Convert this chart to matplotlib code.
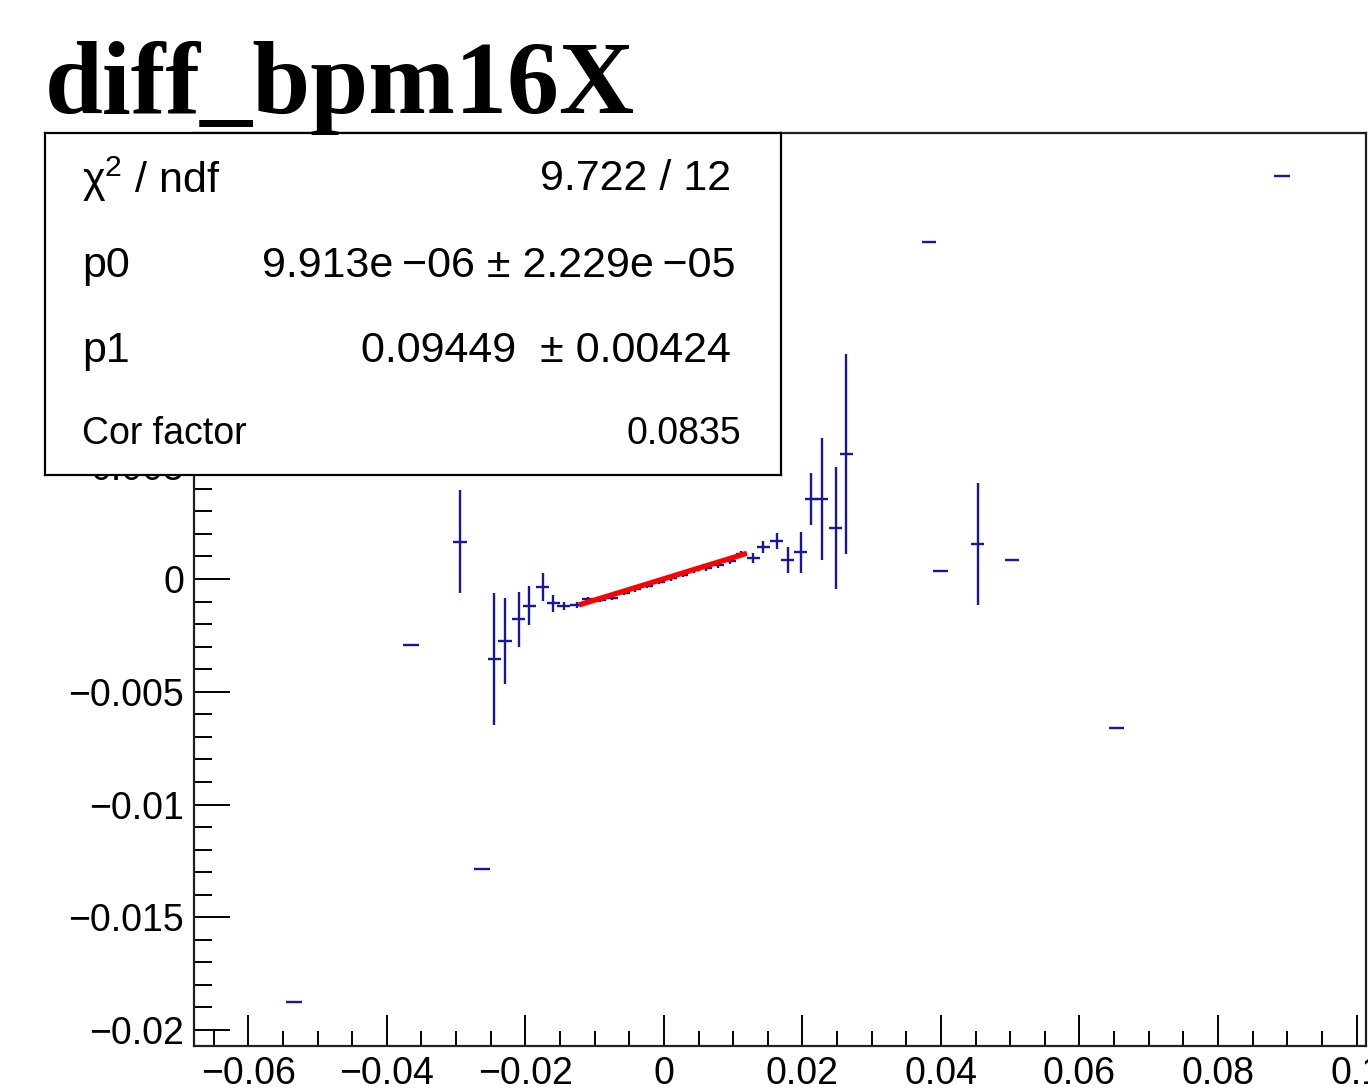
import numpy as np
import matplotlib
matplotlib.use("Agg")
import matplotlib.pyplot as plt
from matplotlib.ticker import MultipleLocator, FuncFormatter

TITLE = "diff_bpm16X"

# profile points (bin centre, mean, error)
prof_x = [-0.05339, -0.03651, -0.02944, -0.02626, -0.02449, -0.02294, -0.02097, -0.01943,
          -0.0175, -0.01597, -0.01448, -0.0126,
          -0.0109, -0.0092, -0.0075, -0.0058, -0.0041, -0.0024, -0.0007,
          0.0010, 0.0027, 0.0044, 0.0061, 0.0078, 0.0095, 0.0112,
          0.01289, 0.01438, 0.0163, 0.01785, 0.01977, 0.02131, 0.0228, 0.02482, 0.02636,
          0.03824, 0.03997, 0.04531, 0.05022, 0.06537, 0.0892]
prof_y = [-0.01877, -0.00293, 0.00166, -0.01287, -0.00356, -0.00274, -0.00179, -0.00118,
          -0.00034, -0.00108, -0.00118, -0.00115,
          -0.00090, -0.00092, -0.00082, -0.00062, -0.00046, -0.00030, -0.00013,
          0.00004, 0.00020, 0.00038, 0.00047, 0.00063, 0.00078, 0.00110,
          0.00092, 0.00141, 0.00169, 0.00084, 0.00118, 0.00355, 0.00355, 0.00225, 0.00555,
          0.01495, 0.00036, 0.00155, 0.00084, -0.00661, 0.01788]
prof_yerr = [0.0, 0.0, 0.00228, 0.0, 0.00292, 0.00192, 0.00122, 0.00087,
             0.00062, 0.00037, 0.00018, 0.00015,
             0.00012, 0.00012, 0.00012, 0.00011, 0.00011, 0.00011, 0.00011,
             0.00011, 0.00011, 0.00011, 0.00012, 0.00012, 0.00012, 0.00013,
             0.00023, 0.00026, 0.00037, 0.00057, 0.00092, 0.00117, 0.00271, 0.00271, 0.00442,
             0.0, 0.0, 0.0027, 0.0, 0.0, 0.0]
prof_xerr = [0.00115, 0.0011, 0.00095, 0.0011, 0.00095, 0.00095, 0.00095, 0.00095,
             0.00095, 0.00095, 0.00095, 0.00095,
             0.00085, 0.00085, 0.00085, 0.00085, 0.00085, 0.00085, 0.00085,
             0.00085, 0.00085, 0.00085, 0.00085, 0.00085, 0.00085, 0.00085,
             0.00095, 0.00095, 0.00095, 0.00095, 0.00095, 0.00095, 0.00095, 0.00095, 0.00095,
             0.001, 0.0011, 0.00095, 0.001, 0.0011, 0.00115]

# linear fit pol1
fit_p0 = 9.913e-06
fit_p1 = 0.09449
fit_range = [-0.01227, 0.01198]

stats_labels = ["χ$^{2}$ / ndf", "p0", "p1", "Cor factor"]
stats_values = ["9.722 / 12", "9.913e\u2009\u221206 ± 2.229e\u2009\u221205", "0.09449  ± 0.00424", "0.0835"]

BLUE = "#16169e"

plt.rcParams["mathtext.fontset"] = "custom"
plt.rcParams["mathtext.rm"] = "Liberation Sans"
plt.rcParams["mathtext.it"] = "Liberation Sans:italic"

W, H = 1368, 1090
fig = plt.figure(figsize=(W / 100, H / 100), dpi=100, facecolor="white")

# main frame (pixel box 194..1366 x 133..1046)
ax = fig.add_axes([194 / W, 1 - 1046 / H, (1366 - 194) / W, (1046 - 133) / H])
ax.errorbar(prof_x, prof_y, xerr=prof_xerr, yerr=prof_yerr, fmt="none",
            ecolor=BLUE, elinewidth=1.7, capsize=0, zorder=2)

fx = np.linspace(fit_range[0], fit_range[1], 50)
ax.plot(fx, fit_p0 + fit_p1 * fx, color="red", lw=3.8, zorder=3, solid_capstyle="butt")

ax.set_xlim(-0.06784, 0.10137)
ax.set_ylim(-0.02071, 0.01978)


def root_fmt(v, pos):
    if abs(v) < 1e-12:
        return "0"
    return ("%g" % v).replace("-", "\u2212")


def root_fmt_y(v, pos):
    # labels above 0.005 sit under the stats box anyway
    if v > 0.006:
        return ""
    return root_fmt(v, pos)


ax.xaxis.set_major_locator(MultipleLocator(0.02))
ax.xaxis.set_minor_locator(MultipleLocator(0.005))
ax.yaxis.set_major_locator(MultipleLocator(0.005))
ax.yaxis.set_minor_locator(MultipleLocator(0.001))
ax.xaxis.set_major_formatter(FuncFormatter(root_fmt))
ax.yaxis.set_major_formatter(FuncFormatter(root_fmt_y))

ax.tick_params(axis="x", which="major", direction="in", length=22, width=1.4, pad=7,
               labelsize=27, top=False)
ax.tick_params(axis="x", which="minor", direction="in", length=11, width=1.4, top=False)
ax.tick_params(axis="y", which="major", direction="in", length=26, width=1.4, pad=7,
               labelsize=27, right=False)
ax.tick_params(axis="y", which="minor", direction="in", length=13, width=1.4, right=False)
for lab in ax.get_xticklabels() + ax.get_yticklabels():
    lab.set_family("Liberation Sans")
for sp in ax.spines.values():
    sp.set_linewidth(1.6)
    sp.set_color("#202020")

# title, ROOT style big bold serif
fig.text(45 / W, 1 - 113 / H, TITLE, fontsize=75, fontweight="bold",
         family="Liberation Serif", ha="left", va="baseline")

# fit stats box drawn on top of the frame
box = fig.add_axes([45 / W, 1 - 475 / H, (781 - 45) / W, (475 - 133) / H])
box.set_xticks([])
box.set_yticks([])
box.set_facecolor("white")
for sp in box.spines.values():
    sp.set_linewidth(1.6)
    sp.set_color("black")

row_y = [179, 266, 351, 434]
row_right = [731, 736, 731, 741]
row_size = [31, 31, 31, 27]
for lbl, val, py, pr, fs in zip(stats_labels, stats_values, row_y, row_right, row_size):
    yy = (475 - py) / (475 - 133)
    box.text((82 - 45) / 736, yy, lbl, transform=box.transAxes, fontsize=fs,
             family="Liberation Sans", ha="left", va="center")
    box.text((pr - 45) / 736, yy, val, transform=box.transAxes, fontsize=fs,
             family="Liberation Sans", ha="right", va="center")

fig.savefig("out.png", dpi=100, facecolor="white")
